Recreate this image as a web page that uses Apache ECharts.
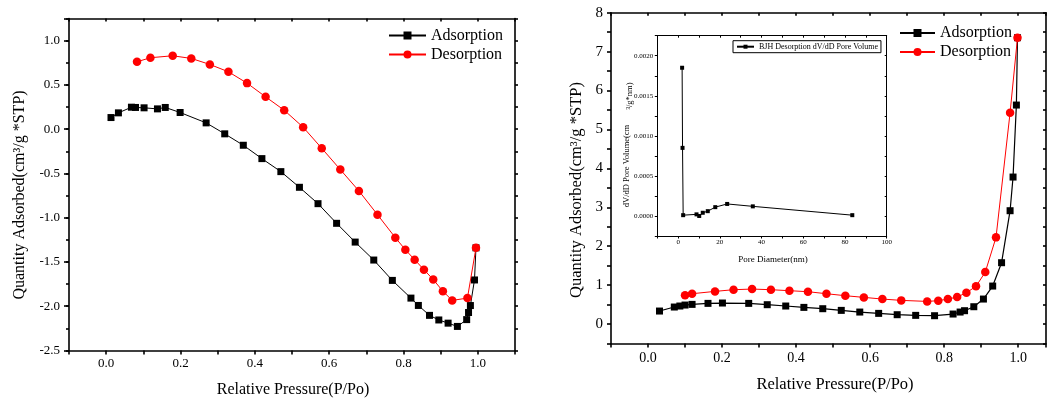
<!DOCTYPE html>
<html><head><meta charset="utf-8">
<script src="https://cdn.jsdelivr.net/npm/echarts@6/dist/echarts.min.js"></script>
<style>html,body{margin:0;padding:0;background:#fff}#c{width:1049px;height:401px;background:#fff}</style>
</head><body><div id="c"></div>
<script>
// ---------- data ----------
const leftAdsX = [0.013,0.033,0.068,0.079,0.102,0.138,0.159,0.199,0.269,0.319,0.369,0.419,0.470,0.520,0.570,0.620,0.670,0.720,0.770,0.820,0.840,0.870,0.895,0.920,0.945,0.970,0.975,0.980,0.991,0.995];
const leftAdsY = [0.132,0.185,0.249,0.246,0.242,0.230,0.246,0.189,0.072,-0.052,-0.181,-0.332,-0.479,-0.656,-0.841,-1.063,-1.275,-1.478,-1.708,-1.908,-1.991,-2.103,-2.155,-2.191,-2.228,-2.151,-2.071,-1.992,-1.703,-1.34];
const leftDesX = [0.083,0.119,0.179,0.229,0.279,0.329,0.379,0.429,0.479,0.530,0.580,0.630,0.680,0.730,0.778,0.805,0.830,0.855,0.880,0.906,0.931,0.972,0.995];
const leftDesY = [0.762,0.808,0.830,0.800,0.732,0.649,0.521,0.366,0.215,0.023,-0.215,-0.456,-0.697,-0.965,-1.225,-1.361,-1.474,-1.587,-1.698,-1.830,-1.934,-1.908,-1.34];

const rightAdsX = [0.031,0.071,0.086,0.100,0.119,0.162,0.201,0.272,0.322,0.372,0.421,0.472,0.522,0.572,0.623,0.673,0.723,0.774,0.824,0.843,0.855,0.880,0.906,0.931,0.955,0.978,0.986,0.995,0.998];
const rightAdsY = [0.334,0.437,0.463,0.488,0.505,0.531,0.540,0.531,0.497,0.463,0.428,0.394,0.351,0.308,0.274,0.240,0.223,0.214,0.257,0.308,0.343,0.445,0.642,0.976,1.576,2.912,3.777,5.627,7.357];
const rightDesX = [0.100,0.119,0.181,0.231,0.281,0.332,0.382,0.432,0.482,0.533,0.583,0.633,0.684,0.754,0.784,0.810,0.835,0.860,0.886,0.911,0.940,0.978,0.998];
const rightDesY = [0.737,0.779,0.839,0.882,0.899,0.882,0.857,0.831,0.779,0.728,0.685,0.642,0.608,0.582,0.600,0.642,0.694,0.805,0.968,1.336,2.227,5.430,7.357];

const insetX = [1.9,2.1,2.4,8.8,10.1,11.8,14.2,17.8,23.5,35.8,83.5];
const insetY = [0.00185,0.00085,0.00001,0.00002,0.0,0.00004,0.00006,0.00011,0.00015,0.00012,0.00001];

// ---------- tick labels ----------
const pressureTicks = [0,0.2,0.4,0.6,0.8,1.0];
const leftYTicks = [-2.5,-2.0,-1.5,-1.0,-0.5,0.0,0.5,1.0];
const rightYTicks = [0,1,2,3,4,5,6,7,8];
const insetXTicks = [0,20,40,60,80,100];
const insetYTicks = [0,0.0005,0.001,0.0015,0.002];

const F = 'Liberation Serif';
const pairs = (xs, ys) => xs.map((x, i) => [x, ys[i]]);
const onlyIn = (list, fmt, eps) => v => list.some(t => Math.abs(t - v) < eps) ? fmt(v) : '';
const f1 = v => Number(v).toFixed(1);
const f0 = v => String(Math.round(v));
const f4 = v => Number(v).toFixed(4);

function mainAxis(g, pos, min, max, interval, tickLen, lw, labels) {
  return { type: 'value', gridIndex: g, position: pos, min, max, interval, splitLine: { show: false },
    axisLine: { show: true, onZero: false, lineStyle: { color: '#000', width: lw } },
    axisTick: { show: true, inside: false, length: tickLen, lineStyle: { color: '#000', width: lw } },
    axisLabel: { show: true, formatter: labels.fmt, fontFamily: F, fontSize: labels.fs, color: '#000', margin: labels.margin,
      showMinLabel: true, showMaxLabel: true, hideOverlap: false } };
}
function sideAxis(g, pos, min, max, interval, tickLen, lw, inside, showLine) {
  return { type: 'value', gridIndex: g, position: pos, min, max, interval, splitLine: { show: false },
    axisLine: { show: showLine, onZero: false, lineStyle: { color: '#000', width: lw } },
    axisTick: { show: true, inside, length: tickLen, lineStyle: { color: '#000', width: lw } },
    axisLabel: { show: false } };
}

const xAxes = [
  mainAxis(0, 'bottom', -0.1, 1.1, 0.1, 4, 1.6, { fmt: onlyIn(pressureTicks, f1, 1e-6), fs: 13, margin: 7 }),
  sideAxis(0, 'top', -0.1, 1.1, 0.1, 3, 1.6, true, true),
  mainAxis(1, 'bottom', -0.1, 1.075, 0.1, 4, 1.6, { fmt: onlyIn(pressureTicks, f1, 1e-6), fs: 14, margin: 8 }),
  sideAxis(1, 'top', -0.1, 1.075, 0.1, 3, 1.6, true, true),
  mainAxis(2, 'bottom', -10, 100, 10, 2.5, 1, { fmt: onlyIn(insetXTicks, f0, 1e-6), fs: 7, margin: 3 }),
  sideAxis(2, 'top', -10, 100, 10, 2, 1, true, true)
];
const yAxes = [
  mainAxis(0, 'left', -2.5, 1.25, 0.5, 5, 1.6, { fmt: onlyIn(leftYTicks, f1, 1e-6), fs: 13, margin: 9 }),
  sideAxis(0, 'right', -2.5, 1.25, 0.25, 3, 1.6, false, true),
  mainAxis(1, 'left', -0.5, 8, 0.5, 4, 1.6, { fmt: onlyIn(rightYTicks, f0, 1e-6), fs: 15, margin: 8 }),
  sideAxis(1, 'right', -0.5, 8, 0.5, 3, 1.6, true, true),
  mainAxis(2, 'left', -0.00025, 0.00225, 0.00025, 2.5, 1, { fmt: onlyIn(insetYTicks, f4, 1e-9), fs: 7, margin: 4 }),
  sideAxis(2, 'right', -0.00025, 0.00225, 0.00025, 2, 1, true, true),
  sideAxis(0, 'left', -2.5, 1.25, 0.25, 3, 1.6, false, false)
];

const chart = echarts.init(document.getElementById('c'));
const txt = (text, x, y, size, rot) => ({
  type: 'text', x, y, rotation: rot || 0, silent: true,
  style: { text, fontFamily: F, fontSize: size, fill: '#000', align: 'center', verticalAlign: 'middle', textAlign: 'center', textVerticalAlign: 'middle' }
});

chart.setOption({
  animation: false,
  grid: [
    { left: 69, top: 18.6, width: 446, height: 331.9 },
    { left: 611, top: 12.7, width: 437, height: 330.8 },
    { left: 657.3, top: 35.7, width: 229.4, height: 200.3 }
  ],
  xAxis: xAxes,
  yAxis: yAxes,
  legend: [
    { data: ['Adsorption', 'Desorption'], orient: 'vertical', left: 388, top: 27.5, itemWidth: 37, itemHeight: 10, itemGap: 3, padding: 0,
      textStyle: { fontFamily: F, fontSize: 16, color: '#000', lineHeight: 16 }, selectedMode: false },
    { data: ['Adsorption (b)', 'Desorption (b)'], orient: 'vertical', left: 899, top: 25, itemWidth: 35, itemHeight: 10, itemGap: 3, padding: 0,
      formatter: n => n.replace(' (b)', ''),
      textStyle: { fontFamily: F, fontSize: 16, color: '#000', lineHeight: 16 }, selectedMode: false },
    { data: ['BJH Desorption dV/dD Pore Volume'], left: 733, top: 40.7, itemWidth: 17, itemHeight: 5, padding: [2, 3], borderColor: '#000', borderWidth: 1,
      textStyle: { fontFamily: F, fontSize: 8, color: '#000', lineHeight: 8 }, selectedMode: false }
  ],
  series: [
    { name: 'Adsorption', type: 'line', xAxisIndex: 0, yAxisIndex: 0, data: pairs(leftAdsX, leftAdsY), symbol: 'rect', symbolSize: 7,
      itemStyle: { color: '#000' }, lineStyle: { color: '#000', width: 1 }, z: 2 },
    { name: 'Desorption', type: 'line', xAxisIndex: 0, yAxisIndex: 0, data: pairs(leftDesX, leftDesY), symbol: 'circle', symbolSize: 8.5,
      itemStyle: { color: '#ff0000' }, lineStyle: { color: '#ff0000', width: 1 }, z: 3 },
    { name: 'Adsorption (b)', type: 'line', xAxisIndex: 2, yAxisIndex: 2, data: pairs(rightAdsX, rightAdsY), symbol: 'rect', symbolSize: 7,
      itemStyle: { color: '#000' }, lineStyle: { color: '#000', width: 1.2 }, z: 2 },
    { name: 'Desorption (b)', type: 'line', xAxisIndex: 2, yAxisIndex: 2, data: pairs(rightDesX, rightDesY), symbol: 'circle', symbolSize: 8.5,
      itemStyle: { color: '#ff0000' }, lineStyle: { color: '#ff0000', width: 1 }, z: 3 },
    { name: 'BJH Desorption dV/dD Pore Volume', type: 'line', xAxisIndex: 4, yAxisIndex: 4, data: pairs(insetX, insetY), symbol: 'rect', symbolSize: 4,
      itemStyle: { color: '#000' }, lineStyle: { color: '#000', width: 1 }, z: 3 }
  ],
  graphic: [
    txt('Quantity Adsorbed(cm³/g *STP)', 20, 195, 16, Math.PI / 2),
    txt('Relative Pressure(P/Po)', 293, 390, 16),
    txt('Quantity Adsorbed(cm³/g *STP)', 577, 190, 16.5, Math.PI / 2),
    txt('Relative Pressure(P/Po)', 835, 385, 16.5),
    txt('dV/dD Pore Volume(cm', 626.5, 166, 8.5, Math.PI / 2),
    txt('³/g*nm)', 630, 96, 8.5, Math.PI / 2),
    txt('Pore Diameter(nm)', 773, 260, 9)
  ]
});
</script></body></html>
